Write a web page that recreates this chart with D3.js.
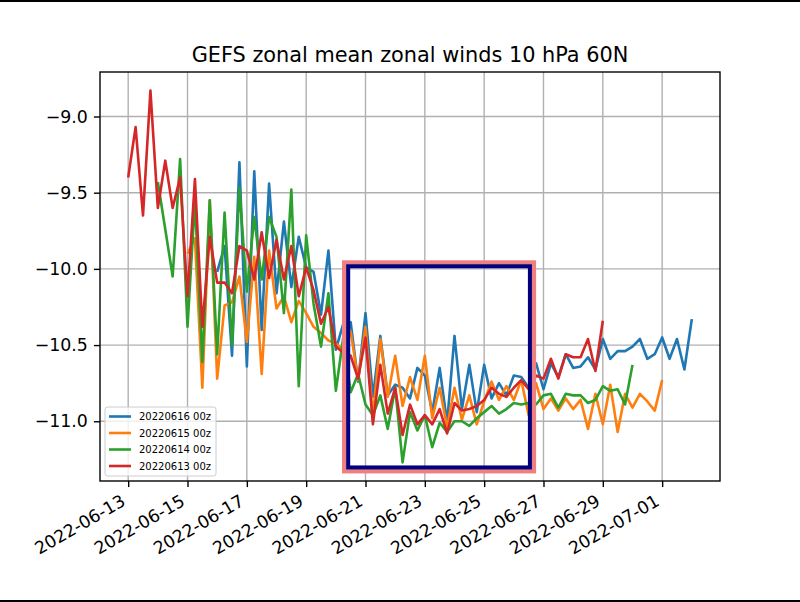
<!DOCTYPE html>
<html><head><meta charset="utf-8">
<script src="https://cdn.jsdelivr.net/npm/d3@7"></script>
<style>body{margin:0;background:#fff}svg{display:block}text{font-family:"DejaVu Sans",sans-serif;fill:#000}</style>
</head><body><svg id="c" width="800" height="602"></svg>
<script>
// ---------------- data ----------------
const title = "GEFS zonal mean zonal winds 10 hPa 60N";
const seriesLabels = ["20220616 00z", "20220615 00z", "20220614 00z", "20220613 00z"];
const seriesStarts = ["2022-06-16T00:00:00Z", "2022-06-15T00:00:00Z", "2022-06-14T00:00:00Z", "2022-06-13T00:00:00Z"];
const stepHours = 6;
const blueVals = [-10.02,-9.85,-10.57,-9.30,-10.64,-9.36,-10.40,-9.44,-10.16,-9.69,-10.12,-9.79,-9.99,-10.02,-10.30,-9.88,-10.53,-10.36,-10.35,-10.74,-10.29,-10.84,-10.44,-10.83,-10.76,-10.78,-10.85,-10.65,-10.70,-10.94,-10.65,-11.01,-10.44,-10.92,-10.63,-10.94,-10.63,-10.85,-10.75,-10.83,-10.70,-10.71,-10.78,-10.62,-10.79,-10.62,-10.71,-10.56,-10.65,-10.64,-10.58,-10.66,-10.46,-10.59,-10.54,-10.54,-10.51,-10.46,-10.59,-10.56,-10.45,-10.59,-10.46,-10.66,-10.33];
const orangeVals = [-9.90,-9.80,-10.78,-9.55,-10.72,-10.24,-10.22,-10.05,-10.48,-9.92,-10.69,-9.88,-10.26,-10.18,-10.35,-10.21,-10.29,-10.38,-10.42,-10.47,-10.49,-10.53,-10.41,-10.73,-10.38,-10.97,-10.46,-10.84,-10.57,-10.90,-10.71,-10.86,-10.57,-10.98,-10.78,-11.04,-10.78,-10.99,-10.83,-11.02,-10.87,-10.74,-10.86,-10.77,-10.86,-10.73,-10.96,-10.75,-10.92,-10.85,-10.93,-10.85,-10.92,-10.86,-11.05,-10.82,-11.02,-10.76,-11.07,-10.82,-10.91,-10.82,-10.87,-10.93,-10.73];
const greenVals = [-9.43,-9.74,-10.05,-9.28,-10.38,-9.55,-10.61,-9.55,-10.56,-9.63,-10.50,-9.47,-10.15,-9.66,-10.07,-9.66,-9.79,-10.29,-9.48,-10.77,-9.78,-10.23,-10.51,-10.16,-10.80,-10.45,-10.81,-10.69,-10.89,-10.96,-10.83,-11.05,-10.78,-11.27,-10.94,-11.06,-10.96,-11.17,-11.01,-11.07,-11.00,-11.00,-11.03,-10.98,-10.94,-10.90,-10.95,-10.92,-10.88,-10.89,-10.88,-10.89,-10.83,-10.82,-10.91,-10.82,-10.83,-10.83,-10.88,-10.86,-10.77,-10.80,-10.79,-10.89,-10.63];
const redVals = [-9.40,-9.07,-9.65,-8.83,-9.60,-9.29,-9.60,-9.40,-10.18,-9.41,-10.38,-9.79,-10.09,-10.09,-10.16,-9.85,-9.88,-10.07,-9.76,-10.06,-9.81,-10.07,-9.85,-10.18,-9.99,-10.14,-10.36,-10.25,-10.51,-10.55,-10.57,-10.72,-10.45,-11.02,-10.63,-10.95,-10.78,-11.09,-10.89,-11.02,-10.96,-11.02,-10.92,-11.08,-10.88,-10.93,-10.92,-10.90,-10.86,-10.78,-10.82,-10.84,-10.78,-10.73,-10.79,-10.70,-10.72,-10.59,-10.72,-10.56,-10.58,-10.58,-10.46,-10.67,-10.34];
const yTickValues = [-11.0, -10.5, -10.0, -9.5, -9.0];
const xTickLabels = ["2022-06-13","2022-06-15","2022-06-17","2022-06-19","2022-06-21","2022-06-23","2022-06-25","2022-06-27","2022-06-29","2022-07-01"];
// highlight box (data coordinates)
const boxTimes = ["2022-06-20T10:00:00Z", "2022-06-26T13:00:00Z"];
const boxValues = [-9.983, -11.303];
const outerBoxTimes = ["2022-06-20T07:00:00Z", "2022-06-26T16:00:00Z"];
const outerBoxValues = [-9.960, -11.326];

// ---------------- chart ----------------
const colors = ["#1f77b4", "#ff7f0e", "#2ca02c", "#d62728"];
const valueLists = [blueVals, orangeVals, greenVals, redVals];
const series = seriesLabels.map((lab, i) => {
  const t0 = new Date(seriesStarts[i]).getTime();
  return { label: lab, color: colors[i],
    points: valueLists[i].map((v, k) => ({ t: new Date(t0 + k * stepHours * 3600e3), v })) };
});

const svg = d3.select("#c");
const L = 100, R = 720, T = 72, B = 481;
const pt = 125 / 72; // px per point

svg.append("rect").attr("x",0).attr("y",0).attr("width",800).attr("height",602).attr("fill","#fff");

const allT = series.flatMap(s => s.points.map(p => +p.t));
const allV = series.flatMap(s => s.points.map(p => p.v));
const tMin = d3.min(allT), tMax = d3.max(allT), tPad = (tMax - tMin) * 0.05;
const vMin = d3.min(allV), vMax = d3.max(allV), vPad = (vMax - vMin) * 0.05;
const x = d3.scaleUtc().domain([new Date(tMin - tPad), new Date(tMax + tPad)]).range([L, R]);
const y = d3.scaleLinear().domain([vMin - vPad, vMax + vPad]).range([B, T]);

const xTicks = xTickLabels.map(s => new Date(s + "T00:00:00Z"));

// grid
const grid = svg.append("g");
xTicks.forEach(d => grid.append("line").attr("x1", x(d)).attr("x2", x(d)).attr("y1", T).attr("y2", B)
  .attr("stroke", "#b0b0b0").attr("stroke-width", 0.8 * pt));
yTickValues.forEach(v => grid.append("line").attr("x1", L).attr("x2", R).attr("y1", y(v)).attr("y2", y(v))
  .attr("stroke", "#b0b0b0").attr("stroke-width", 0.8 * pt));

// lines
const line = d3.line().x(p => x(p.t)).y(p => y(p.v));
svg.append("clipPath").attr("id", "clp").append("rect").attr("x", L).attr("y", T).attr("width", R - L).attr("height", B - T);
svg.append("g").attr("clip-path", "url(#clp)").selectAll("path").data(series).join("path")
  .attr("d", s => line(s.points)).attr("fill", "none").attr("stroke", s => s.color)
  .attr("stroke-width", 1.5 * pt).attr("stroke-linejoin", "round").attr("stroke-linecap", "butt");

// highlight boxes
svg.append("rect")
  .attr("x", x(new Date(outerBoxTimes[0]))).attr("y", y(outerBoxValues[0]))
  .attr("width", x(new Date(outerBoxTimes[1])) - x(new Date(outerBoxTimes[0])))
  .attr("height", y(outerBoxValues[1]) - y(outerBoxValues[0]))
  .attr("fill", "none").attr("stroke", "#f08080").attr("stroke-width", 5);
svg.append("rect")
  .attr("x", x(new Date(boxTimes[0]))).attr("y", y(boxValues[0]))
  .attr("width", x(new Date(boxTimes[1])) - x(new Date(boxTimes[0])))
  .attr("height", y(boxValues[1]) - y(boxValues[0]))
  .attr("fill", "none").attr("stroke", "#000080").attr("stroke-width", 4);

// axes
const tickLen = 3.5 * pt, fs = 10 * pt;
const xAxis = svg.append("g").attr("transform", `translate(0,${B})`)
  .call(d3.axisBottom(x).tickValues(xTicks).tickFormat(d3.utcFormat("%Y-%m-%d")).tickSize(tickLen).tickSizeOuter(0));
xAxis.select(".domain").remove();
xAxis.selectAll(".tick line").attr("stroke", "#000").attr("stroke-width", 0.8 * pt);
xAxis.selectAll(".tick text").attr("x", 0).attr("y", 0).attr("dy", null)
  .attr("text-anchor", "end").attr("font-size", fs).attr("font-family", "DejaVu Sans")
  .attr("transform", `translate(-2,${tickLen + 3.5 * pt + 11.4}) rotate(-30)`);

const yAxis = svg.append("g").attr("transform", `translate(${L},0)`)
  .call(d3.axisLeft(y).tickValues(yTickValues).tickFormat(d3.format(".1f")).tickSize(tickLen).tickPadding(3.5 * pt).tickSizeOuter(0));
yAxis.select(".domain").remove();
yAxis.selectAll(".tick line").attr("stroke", "#000").attr("stroke-width", 0.8 * pt);
yAxis.selectAll(".tick text").attr("font-size", fs).attr("font-family", "DejaVu Sans");

// spines
svg.append("rect").attr("x", L).attr("y", T).attr("width", R - L).attr("height", B - T)
  .attr("fill", "none").attr("stroke", "#000").attr("stroke-width", 0.8 * pt);

// title
svg.append("text").attr("x", (L + R) / 2).attr("y", 62).attr("text-anchor", "middle")
  .attr("font-size", 12 * pt).text(title);

// legend
const lfs = 10;
const lg = svg.append("g");
lg.append("rect").attr("x", 105).attr("y", 407).attr("width", 111).attr("height", 69).attr("rx", 2.5)
  .attr("fill", "#fff").attr("fill-opacity", 0.8).attr("stroke", "#cccccc").attr("stroke-width", 1);
series.forEach((s, i) => {
  const cy = 416.5 + i * 16.5;
  lg.append("line").attr("x1", 109).attr("x2", 131).attr("y1", cy).attr("y2", cy)
    .attr("stroke", s.color).attr("stroke-width", 1.5 * pt);
  lg.append("text").attr("x", 139).attr("y", cy).attr("dy", "0.35em").attr("font-size", lfs).text(s.label);
});

// frame lines top/bottom
svg.append("rect").attr("x", 0).attr("y", 0).attr("width", 800).attr("height", 2).attr("fill", "#000");
svg.append("rect").attr("x", 0).attr("y", 600).attr("width", 800).attr("height", 2).attr("fill", "#000");
</script>
</body></html>
